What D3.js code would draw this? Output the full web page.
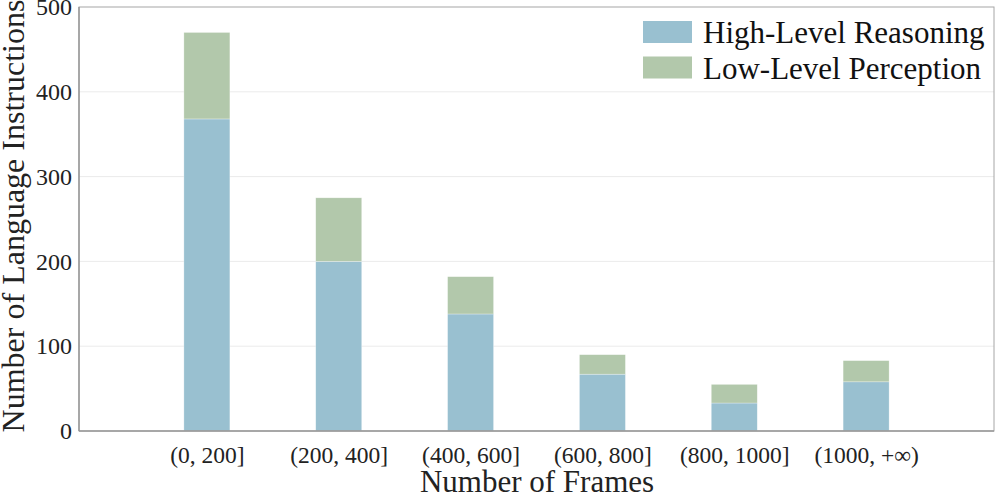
<!DOCTYPE html>
<html>
<head>
<meta charset="utf-8">
<script src="https://cdn.jsdelivr.net/npm/d3@7"></script>
<style>
  html, body { margin: 0; padding: 0; background: #fff; }
  svg { display: block; font-family: "Liberation Serif", "DejaVu Serif", serif; }
</style>
</head>
<body>
<svg id="chart" width="996" height="496"></svg>
<script>
const categories = ["(0, 200]", "(200, 400]", "(400, 600]", "(600, 800]", "(800, 1000]", "(1000, +\u221E)"];
const highLevel = [368, 200, 138, 67, 33, 58];
const lowLevel = [102, 75, 44, 23, 22, 25];
const seriesNames = ["High-Level Reasoning", "Low-Level Perception"];
const yTicks = [0, 100, 200, 300, 400, 500];
const colors = ["#99c0d0", "#b2c8ab"];

const svg = d3.select("#chart");
const margin = { left: 79, right: 2, top: 7, bottom: 65 };
const W = 996, H = 496;
const pw = W - margin.left - margin.right;
const ph = H - margin.top - margin.bottom;

const g = svg.append("g").attr("transform", `translate(${margin.left},${margin.top})`);

const x = d3.scalePoint().domain(categories).range([0, pw]).padding(0.97);
const y = d3.scaleLinear().domain([0, 500]).range([ph, 0]);
const barW = 46;

// grid
g.append("g").selectAll("line").data(yTicks.filter(t => t > 0 && t < 500)).join("line")
  .attr("x1", 0).attr("x2", pw)
  .attr("y1", d => y(d)).attr("y2", d => y(d))
  .attr("stroke", "#ebebeb").attr("stroke-width", 1);

// stacked data
const rows = categories.map((c, i) => ({ cat: c, high: highLevel[i], low: lowLevel[i] }));
const stack = d3.stack().keys(["high", "low"])(rows);

g.append("g").selectAll("g").data(stack).join("g")
  .attr("fill", (d, i) => colors[i])
  .selectAll("rect").data(d => d).join("rect")
  .attr("x", d => x(d.data.cat) - barW / 2)
  .attr("width", barW)
  .attr("y", d => y(d[1]))
  .attr("height", d => y(d[0]) - y(d[1]))
  .attr("stroke", "#ffffff").attr("stroke-opacity", 0.5).attr("stroke-width", 0.6);

// frame
g.append("rect").attr("x", 0).attr("y", 0).attr("width", pw).attr("height", ph)
  .attr("fill", "none").attr("stroke", "#a6a6a6").attr("stroke-width", 1);
g.append("line").attr("x1", 0).attr("x2", pw).attr("y1", ph).attr("y2", ph)
  .attr("stroke", "#999").attr("stroke-width", 1.5);
g.append("line").attr("x1", 0).attr("x2", 0).attr("y1", 0).attr("y2", ph)
  .attr("stroke", "#999").attr("stroke-width", 1.5);

// y axis
const yAxis = d3.axisLeft(y).tickValues(yTicks).tickSize(0).tickPadding(7);
const ya = g.append("g").call(yAxis);
ya.select(".domain").remove();
ya.selectAll("text").attr("font-size", 24).attr("fill", "#222")
  .attr("font-family", "Liberation Serif, serif");

// x axis
const xAxis = d3.axisBottom(x).tickSize(0).tickPadding(15);
const xa = g.append("g").attr("transform", `translate(0,${ph})`).call(xAxis);
xa.select(".domain").remove();
xa.selectAll("text").attr("font-size", 23.5).attr("fill", "#222")
  .attr("font-family", "Liberation Serif, serif");

// axis titles
svg.append("text").attr("x", 537).attr("y", 492)
  .attr("text-anchor", "middle").attr("font-size", 31).attr("fill", "#222")
  .text("Number of Frames");
svg.append("text").attr("transform", `translate(24,216) rotate(-90)`)
  .attr("text-anchor", "middle").attr("font-size", 32).attr("fill", "#222")
  .text("Number of Language Instructions");

// legend
const lg = svg.append("g").attr("transform", "translate(643,21)");
seriesNames.forEach((name, i) => {
  const row = lg.append("g").attr("transform", `translate(0,${i * 35.5})`);
  row.append("rect").attr("width", 49).attr("height", 22).attr("fill", colors[i]);
  row.append("text").attr("x", 60).attr("y", 22).attr("font-size", 31).attr("fill", "#111")
    .text(name);
});
</script>
</body>
</html>
